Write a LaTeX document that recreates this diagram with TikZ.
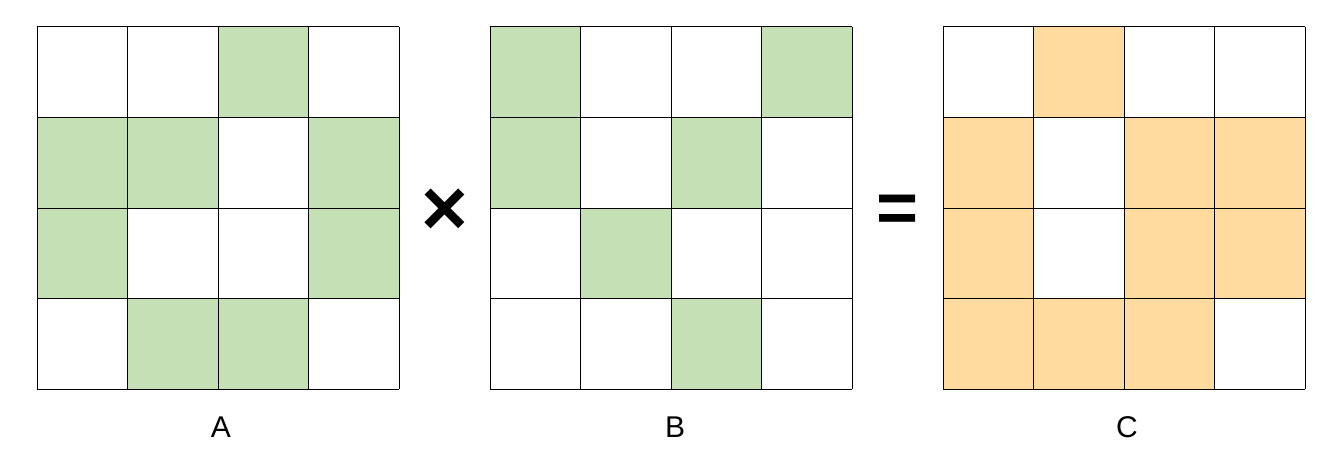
\documentclass[tikz,border=0pt]{standalone}
\usepackage{fontspec}
\setmainfont{Liberation Sans}
\definecolor{cellgreen}{HTML}{C5E0B4}
\definecolor{cellorange}{HTML}{FFDBA0}
\tikzset{
  gridline/.style={draw=black, line width=1pt},
  lbl/.style={anchor=base, inner sep=0pt, font=\fontsize{30}{36}\selectfont},
  opsym/.style={anchor=base, inner sep=0pt, font=\bfseries\fontsize{80}{90}\selectfont},
  eqsym/.style={anchor=base, inner sep=0pt, font=\bfseries\fontsize{72}{80}\selectfont},
}
\newcommand{\cellfill}[4]{% #1 x0, #2 row, #3 col, #4 color
  \fill[#4] ({#1+#3*90.5},{27+#2*90.5}) rectangle ++(90.5,90.5);}
\begin{document}
\begin{tikzpicture}[x=1pt,y=-1pt]
\useasboundingbox (0,0) rectangle (1340,460);
% A
\foreach \r/\c in {0/2,1/0,1/1,1/3,2/0,2/3,3/1,3/2} {\cellfill{37}{\r}{\c}{cellgreen}}
% B
\foreach \r/\c in {0/0,0/3,1/0,1/2,2/1,3/2} {\cellfill{490}{\r}{\c}{cellgreen}}
% C
\foreach \r/\c in {0/1,1/0,1/2,1/3,2/0,2/2,2/3,3/0,3/1,3/2} {\cellfill{943}{\r}{\c}{cellorange}}
\foreach \x in {37,490,943} {
  \foreach \i in {0,...,4} {
    \draw[gridline] ({\x+\i*90.5},27) -- ({\x+\i*90.5},389);
    \draw[gridline] (\x,{27+\i*90.5}) -- ({\x+362},{27+\i*90.5});
  }
}
\node[lbl] (la) at (221,437) {A};
\node[lbl] (lb) at (675,437) {B};
\node[lbl] (lc) at (1127,437) {C};
\node[opsym] (times) at (445,235) {×};
\node[eqsym] (eq) at (897.5,232) {=};
\end{tikzpicture}
\end{document}
